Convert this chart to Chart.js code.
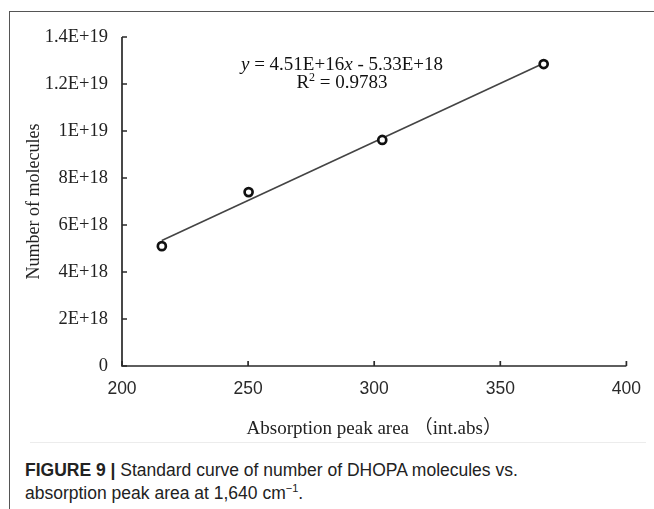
<!DOCTYPE html>
<html>
<head>
<meta charset="utf-8">
<script src="https://cdn.jsdelivr.net/npm/chart.js@4.4.1/dist/chart.umd.min.js"></script>
<style>
  html, body { margin: 0; padding: 0; background: #fff; }
  body { width: 654px; height: 509px; position: relative; overflow: hidden; }
  #frameTop { position: absolute; left: 9px; top: 11px; width: 645px; height: 0; border-top: 1.5px solid #555; }
  #frameLeft { position: absolute; left: 9px; top: 11px; width: 0; height: 498px; border-left: 1.5px solid #555; }
  #sep { position: absolute; left: 30px; top: 442px; width: 616px; height: 0; border-top: 1px solid #ececec; }
  #wrap { position: absolute; left: 0; top: 0; width: 654px; height: 440px; }
  #eq { position: absolute; left: 142px; width: 400px; top: 55px; text-align: center;
        font-family: "Liberation Serif", serif; font-size: 19px; line-height: 18px; color: #111; }
  #caption { position: absolute; left: 25px; top: 459px; font-family: "Liberation Sans", Arial, sans-serif;
        font-size: 17.5px; line-height: 23px; color: #222; white-space: nowrap; }
  #caption b { font-weight: bold; }
</style>
</head>
<body>
<div id="frameTop"></div>
<div id="frameLeft"></div>
<div id="sep"></div>
<div id="wrap"><canvas id="c" width="654" height="440"></canvas></div>
<div id="eq"><i>y</i> = 4.51E+16<i>x</i> - 5.33E+18<br>R<sup style="font-size:12px;line-height:0">2</sup> = 0.9783</div>
<div id="caption"><b>FIGURE 9 |</b> Standard curve of number of DHOPA molecules vs.<br>absorption peak area at 1,640 cm<sup style="font-size:11px;line-height:0">&minus;1</sup>.</div>
<script>
// Data
const peakArea = [215.8, 250.2, 303.2, 367.2];
const molecules = [5.1e18, 7.4e18, 9.62e18, 12.85e18];
// Trend line endpoints
const trendX = [215.8, 367.2];
const trendY = [5.34e18, 12.88e18];
// Tick labels
const xTicks = [200, 250, 300, 350, 400];
const yTicks = [0, 2e18, 4e18, 6e18, 8e18, 1e19, 1.2e19, 1.4e19];
const yTickLabels = ['0', '2E+18', '4E+18', '6E+18', '8E+18', '1E+19', '1.2E+19', '1.4E+19'];

const axisPlugin = {
  id: 'axisPlugin',
  afterDraw(chart) {
    const ctx = chart.ctx;
    const xs = chart.scales.x, ys = chart.scales.y;
    const left = xs.getPixelForValue(200), right = xs.getPixelForValue(400);
    const bottom = ys.getPixelForValue(0), top = ys.getPixelForValue(1.4e19);
    ctx.save();
    ctx.strokeStyle = '#2a2a2a';
    ctx.lineWidth = 1.7;
    ctx.beginPath();
    ctx.moveTo(left, top); ctx.lineTo(left, bottom); ctx.lineTo(right, bottom);
    ctx.stroke();
    ctx.beginPath();
    xTicks.forEach(v => { const p = xs.getPixelForValue(v); ctx.moveTo(p, bottom); ctx.lineTo(p, bottom - 5); });
    yTicks.forEach(v => { const p = ys.getPixelForValue(v); ctx.moveTo(left, p); ctx.lineTo(left + 5, p); });
    ctx.stroke();
    ctx.restore();
  }
};

new Chart(document.getElementById('c'), {
  type: 'scatter',
  data: {
    datasets: [
      {
        label: 'trend',
        data: trendX.map((x, i) => ({ x, y: trendY[i] })),
        showLine: true,
        borderColor: '#444',
        borderWidth: 1.6,
        pointRadius: 0,
        order: 2
      },
      {
        label: 'data',
        data: peakArea.map((x, i) => ({ x, y: molecules[i] })),
        pointRadius: 4,
        pointBorderWidth: 2.7,
        pointBorderColor: '#111',
        pointBackgroundColor: '#fff',
        order: 1
      }
    ]
  },
  options: {
    responsive: false,
    animation: false,
    events: [],
    layout: { padding: { left: 0, right: 26, top: 37, bottom: 0 } },
    plugins: { legend: { display: false }, tooltip: { enabled: false } },
    scales: {
      x: {
        type: 'linear', min: 200, max: 400,
        afterBuildTicks(s) { s.ticks = xTicks.map(v => ({ value: v })); },
        afterFit(s) { s.height = 74; },
        grid: { display: false, drawTicks: false },
        border: { display: false },
        ticks: { padding: 13, color: '#2a2a2a', font: { family: '"Liberation Sans", Arial, sans-serif', size: 17.5 }, maxRotation: 0 },
        title: { display: true, text: 'Absorption peak area （int.abs）', color: '#222',
                 font: { family: '"Liberation Serif", "Noto Sans CJK SC", serif', size: 19 }, padding: { top: 13, bottom: 0 } }
      },
      y: {
        type: 'linear', min: 0, max: 1.4e19,
        afterBuildTicks(s) { s.ticks = yTicks.map(v => ({ value: v })); },
        afterFit(s) { s.width = 122; },
        grid: { display: false, drawTicks: false },
        border: { display: false },
        ticks: { padding: 14, color: '#222', font: { family: '"Liberation Serif", serif', size: 18.5 },
                 callback: (v, i) => yTickLabels[i] },
        title: { display: true, text: 'Number of molecules', color: '#222',
                 font: { family: '"Liberation Serif", serif', size: 18 }, padding: { top: 23, bottom: 0 } }
      }
    }
  },
  plugins: [axisPlugin]
});
</script>
</body>
</html>
